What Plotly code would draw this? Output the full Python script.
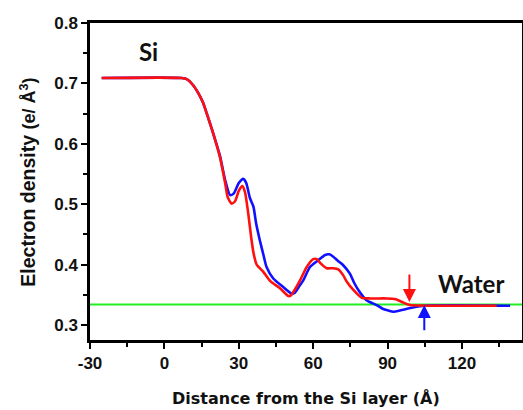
import plotly.graph_objects as go

# ---- data ----
red_x = [-25.3, 7, 9, 11.6, 13.5, 15.6, 17.5, 19.7, 22.4, 24.5, 25.5, 27.1, 28.5, 30, 31.4, 32.5,
         33.8, 35, 35.9, 37.2, 39.9, 42.6, 46.6, 50, 51, 52.5, 54.7, 57.4, 60, 61.5, 63, 65.4,
         68, 70.1, 72, 73.5, 76.2, 79.6, 83, 89.6, 93, 96.4, 99, 105, 134]
red_y = [0.709, 0.709, 0.707, 0.697, 0.685, 0.668, 0.645, 0.617, 0.578, 0.535, 0.512, 0.501, 0.505,
         0.522, 0.530, 0.520, 0.485, 0.445, 0.420, 0.400, 0.388, 0.373, 0.361, 0.348, 0.349, 0.358,
         0.374, 0.396, 0.409, 0.409, 0.402, 0.394, 0.394, 0.392, 0.383, 0.372, 0.358, 0.345, 0.344,
         0.344, 0.343, 0.337, 0.333, 0.332, 0.332]

blue_x = [-25.3, 7, 9, 11.6, 13.5, 15.6, 17.5, 19.7, 22.4, 24.5, 26.5, 28, 30, 31.8, 33, 34.5,
          35.9, 37, 38.5, 40, 41.2, 43.9, 47.9, 51.3, 52.5, 54.5, 56, 58.7, 62, 64.8, 66.5, 68.1,
          70, 72.1, 74.8, 76.5, 78.2, 81.5, 85.6, 88, 90.3, 92.3, 95, 100.2, 105, 139.4]
blue_y = [0.709, 0.709, 0.707, 0.697, 0.685, 0.668, 0.645, 0.617, 0.580, 0.540, 0.515, 0.518,
          0.535, 0.542, 0.535, 0.510, 0.496, 0.468, 0.440, 0.415, 0.396, 0.377, 0.363, 0.352,
          0.353, 0.365, 0.374, 0.396, 0.407, 0.416, 0.417, 0.413, 0.406, 0.399, 0.385, 0.370,
          0.358, 0.341, 0.333, 0.327, 0.324, 0.322, 0.324, 0.329, 0.332, 0.332]

water_level = 0.334
x_range = [-30, 144.2]
y_range = [0.2752, 0.8]
x_ticks = [-30, 0, 30, 60, 90, 120]
x_ticktext = ["-30", "0", "30", "60", "90", "120"]
y_ticks = [0.3, 0.4, 0.5, 0.6, 0.7, 0.8]

red_arrow = dict(x=98.8, y_tail=0.386, y_head=0.338)
blue_arrow = dict(x=104.8, y_tail=0.289, y_head=0.333)

labels = [dict(text="Si", x=-6.6, y=0.753), dict(text="Water", x=123.6, y=0.368)]

x_title = "Distance from the Si layer (Å)"
y_title = "Electron density"
y_unit = "(e/ Å<sup>3</sup>)"

# ---- figure ----
fig = go.Figure()
fig.add_trace(go.Scatter(x=x_range, y=[water_level, water_level], mode="lines",
                         line=dict(color="#22ee22", width=2), hoverinfo="skip"))
fig.add_trace(go.Scatter(x=blue_x, y=blue_y, mode="lines",
                         line=dict(color="#1010ff", width=2.6, shape="spline", smoothing=0.6)))
fig.add_trace(go.Scatter(x=red_x, y=red_y, mode="lines",
                         line=dict(color="#ff1010", width=2.6, shape="spline", smoothing=0.6)))

for arr, col in [(red_arrow, "#ff1010"), (blue_arrow, "#1010ff")]:
    fig.add_annotation(x=arr["x"], y=arr["y_head"], ax=arr["x"], ay=arr["y_tail"],
                       xref="x", yref="y", axref="x", ayref="y", text="",
                       showarrow=True, arrowhead=2, arrowsize=1.3, arrowwidth=2, arrowcolor=col)

for lab in labels:
    fig.add_annotation(x=lab["x"], y=lab["y"], xref="x", yref="y", text="<b>%s</b>" % lab["text"],
                       showarrow=False, font=dict(family="Lato", size=24, color="#111"))

# axis titles as paper-positioned annotations
fig.add_annotation(x=0.499, y=-0.183, xref="paper", yref="paper", showarrow=False,
                   text="<b>%s</b>" % x_title, xanchor="center", yanchor="middle",
                   font=dict(family="DejaVu Sans", size=16, color="#111"))
fig.add_annotation(x=-0.143, y=0.497, xref="paper", yref="paper", showarrow=False, textangle=-90,
                   text="<b>%s <span style='font-size:18px'>%s</span></b>" % (y_title, y_unit),
                   xanchor="center", yanchor="middle",
                   font=dict(family="Liberation Sans", size=19.5, color="#111"))

axis_common = dict(showline=True, linecolor="black", linewidth=2.5, mirror=True,
                   ticks="outside", ticklen=6, tickwidth=2, tickcolor="black",
                   showgrid=False, zeroline=False, automargin=False,
                   tickfont=dict(family="Liberation Sans", size=17, color="#111", weight="bold"))

fig.update_layout(
    width=523, height=410,
    margin=dict(l=90, r=1, t=23, b=70),
    paper_bgcolor="white", plot_bgcolor="white",
    showlegend=False,
    xaxis=dict(range=x_range, tickvals=x_ticks, ticktext=x_ticktext,
               minor=dict(dtick=15, tick0=-30, ticks="outside", ticklen=4, tickwidth=2, tickcolor="black"),
               **axis_common),
    yaxis=dict(range=y_range, tickvals=y_ticks, tickformat=".1f",
               minor=dict(dtick=0.05, tick0=0.3, ticks="outside", ticklen=4, tickwidth=2, tickcolor="black"),
               **axis_common),
)

fig.write_html("out.html", config={"displayModeBar": False},
               post_script="document.body.style.margin='0px';")
